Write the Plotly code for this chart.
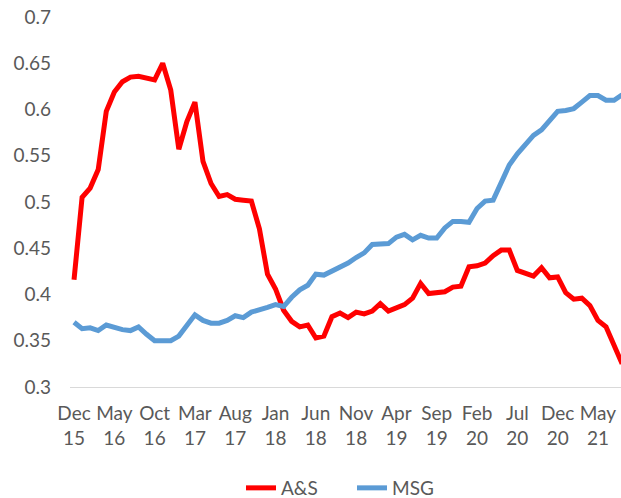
import pandas as pd
import plotly.graph_objects as go

# Monthly categories Dec 2015 .. Aug 2021
months = [d.strftime("%b %y") for d in pd.date_range("2015-12-01", "2021-08-01", freq="MS")]

as_values = [
    0.416, 0.505, 0.515, 0.535, 0.598, 0.619, 0.630, 0.635, 0.636, 0.634,
    0.632, 0.650, 0.621, 0.557, 0.587, 0.608, 0.544, 0.520, 0.506, 0.508,
    0.503, 0.502, 0.501, 0.471, 0.422, 0.406, 0.383, 0.371, 0.365, 0.367,
    0.353, 0.355, 0.376, 0.380, 0.375, 0.381, 0.379, 0.382, 0.390, 0.382,
    0.385, 0.389, 0.396, 0.412, 0.401, 0.402, 0.403, 0.408, 0.409, 0.430,
    0.431, 0.434, 0.442, 0.448, 0.448, 0.426, 0.423, 0.420, 0.429, 0.418,
    0.419, 0.402, 0.395, 0.396, 0.388, 0.372, 0.365, 0.345, 0.325,
]
msg_values = [
    0.370, 0.363, 0.364, 0.361, 0.367, 0.364, 0.362, 0.361, 0.365, 0.357,
    0.350, 0.350, 0.350, 0.355, 0.367, 0.378, 0.372, 0.369, 0.369, 0.372,
    0.377, 0.375, 0.381, 0.383, 0.386, 0.389, 0.387, 0.397, 0.405, 0.410,
    0.422, 0.421, 0.425, 0.430, 0.434, 0.440, 0.445, 0.454, 0.454, 0.455,
    0.462, 0.465, 0.459, 0.464, 0.461, 0.461, 0.472, 0.479, 0.479, 0.478,
    0.493, 0.501, 0.502, 0.521, 0.540, 0.552, 0.562, 0.572, 0.578, 0.588,
    0.598, 0.599, 0.601, 0.608, 0.615, 0.615, 0.610, 0.610, 0.616,
]

x_tick_cats = months[::5][:14]
x_tick_labels = ["Dec<br>15", "May<br>16", "Oct<br>16", "Mar<br>17", "Aug<br>17",
                 "Jan<br>18", "Jun<br>18", "Nov<br>18", "Apr<br>19", "Sep<br>19",
                 "Feb<br>20", "Jul<br>20", "Dec<br>20", "May<br>21"]
y_tick_vals = [0.3, 0.35, 0.4, 0.45, 0.5, 0.55, 0.6, 0.65, 0.7]
y_tick_labels = ["0.3", "0.35", "0.4", "0.45", "0.5", "0.55", "0.6", "0.65", "0.7"]

FONT = "Lato"
GREY = "#595959"
FS = 19
W, H = 621, 498

fig = go.Figure()
fig.add_trace(go.Scatter(x=months, y=as_values, name="A&S", mode="lines",
                         line=dict(color="#FF0000", width=5)))
fig.add_trace(go.Scatter(x=months, y=msg_values, name="MSG", mode="lines",
                         line=dict(color="#5B9BD5", width=5)))

fig.update_layout(
    width=W, height=H,
    margin=dict(l=70, r=0, t=17, b=111, autoexpand=False),
    paper_bgcolor="white", plot_bgcolor="white",
    font=dict(family=FONT, size=FS, color=GREY),
    showlegend=True,
    legend=dict(orientation="h", xref="container", x=241 / W, xanchor="left",
                yref="container", y=10 / H, yanchor="middle",
                font=dict(family=FONT, size=FS, color=GREY),
                entrywidth=66, entrywidthmode="pixels",
                bgcolor="rgba(0,0,0,0)", borderwidth=0),
)
fig.update_xaxes(
    type="category", categoryorder="array", categoryarray=months,
    range=[-0.5, 67.86],
    tickmode="array", tickvals=x_tick_cats, ticktext=x_tick_labels,
    showgrid=False, zeroline=False, showline=True, linecolor="#d9d9d9", linewidth=1,
    ticks="", tickangle=0, ticklabelstandoff=9, ticklabeloverflow="allow",
    tickfont=dict(family=FONT, size=FS, color=GREY),
)
fig.update_yaxes(
    range=[0.3, 0.7], tickmode="array", tickvals=y_tick_vals, ticktext=y_tick_labels,
    showgrid=False, zeroline=False, showline=False, ticks="", ticklabelstandoff=18,
    ticklabeloverflow="allow",
    tickfont=dict(family=FONT, size=FS, color=GREY),
)

# remove the default page margin so the 621x498 figure fills the window exactly
fig.write_html(
    "out.html",
    config={"displayModeBar": False},
    post_script="document.body.style.margin='0';document.body.style.overflow='hidden';",
)
